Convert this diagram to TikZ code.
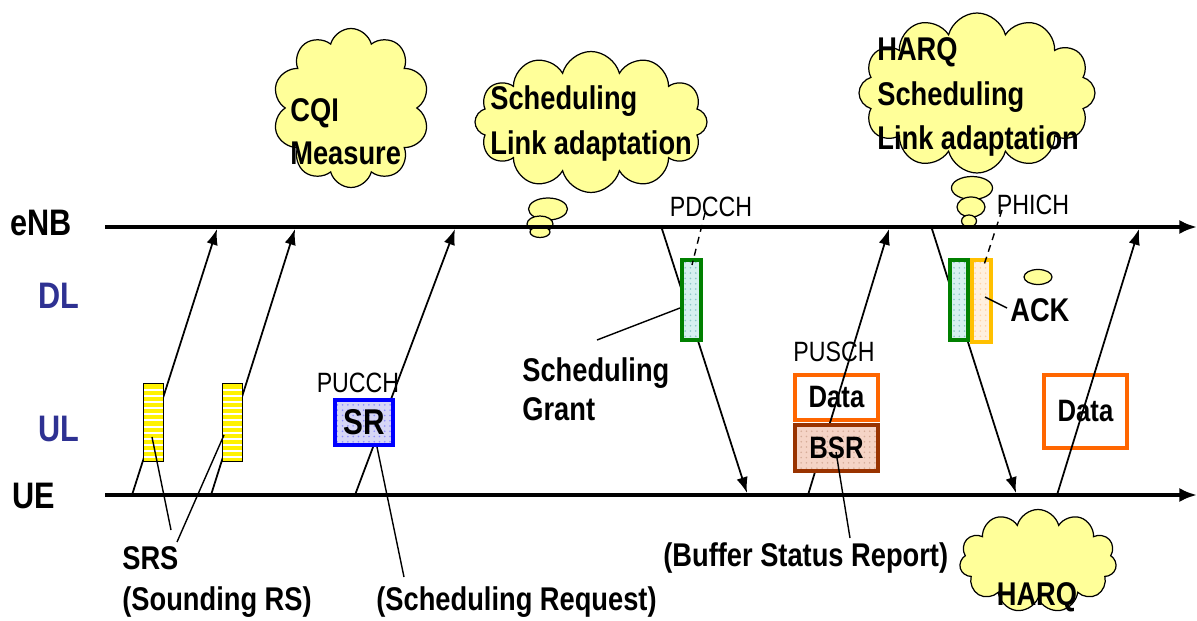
\documentclass[tikz,border=0pt]{standalone}
\usepackage{fontspec}
\setmainfont{Liberation Sans}[FakeStretch=0.83]
\usetikzlibrary{arrows.meta,shapes.symbols,shapes.geometric,patterns}
\definecolor{cloudy}{RGB}{255,255,153}
\definecolor{axisblue}{RGB}{46,49,146}
\definecolor{boxorange}{RGB}{255,102,0}
\definecolor{bsrbrown}{RGB}{153,51,0}
\definecolor{phichgold}{RGB}{255,192,0}
\definecolor{pdgreen}{RGB}{0,128,0}
\definecolor{srblue}{RGB}{0,0,255}
\tikzset{
  pbox/.style 2 args={minimum width=#1*0.02cm, minimum height=#2*0.02cm, inner sep=0pt},
  axisline/.style={line width=2.3pt, -{Latex[length=10pt,width=8pt]}},
  msg/.style={line width=1pt, -{Latex[length=9pt,width=6.5pt]}},
  ptr/.style={line width=0.8pt},
  dptr/.style={line width=0.8pt, dash pattern=on 4pt off 3pt},
  thought/.style={cloud, cloud puffs=11, cloud ignores aspect, fill=cloudy, draw=black, line width=0.7pt, inner sep=0pt},
  bubble/.style={ellipse, fill=cloudy, draw=black, line width=0.7pt, inner sep=0pt},
  lab/.style={font=\bfseries\fontsize{18.7}{18.7}\selectfont, inner sep=0pt},
  axislab/.style={font=\bfseries\fontsize{21}{21}\selectfont, inner sep=0pt},
  chan/.style={font=\fontsize{15.9}{15.9}\selectfont, inner sep=0pt},
  srsbox/.style={draw=black, line width=0.9pt, fill=yellow,
    path picture={\foreach \k in {1,...,13}
      \draw[white, line width=1.1pt] ([yshift=-\k*3.5pt]path picture bounding box.north west) -- ([yshift=-\k*3.5pt]path picture bounding box.north east);}},
  srbox/.style={draw=srblue, line width=2pt, preaction={fill={rgb,255:red,214;green,214;blue,246}}, pattern=dots, pattern color=srblue!45},
  pdbox/.style={draw=pdgreen, line width=2.2pt, preaction={fill={rgb,255:red,214;green,240;blue,240}}, pattern=dots, pattern color=teal!45},
  phbox/.style={draw=phichgold, line width=2.2pt, preaction={fill={rgb,255:red,255;green,240;blue,222}}, pattern=dots, pattern color=orange!35},
  databox/.style={draw=boxorange, line width=2.2pt},
  bsrbox/.style={draw=bsrbrown, line width=2.2pt, preaction={fill={rgb,255:red,245;green,212;blue,198}}, pattern=dots, pattern color=bsrbrown!40},
}
\begin{document}
\begin{tikzpicture}[x=0.02cm,y=-0.02cm]
\useasboundingbox (0,0) rectangle (1197,621);

% clouds and thought bubbles
\node[thought, cloud puffs=10, pbox={157}{159}] (cqicloud) at (351,108) {};
\node[thought, cloud puffs=12, pbox={232}{141}] (schedcloud) at (591,122) {};
\node[bubble, pbox={39}{22}] (sb1) at (548,209) {};
\node[bubble, pbox={26}{16}] (sb2) at (540,224) {};
\node[bubble, pbox={20}{11}] (sb3) at (540,232) {};
\node[thought, cloud puffs=12, pbox={236}{160}] (harqcloud) at (977,93) {};
\node[bubble, pbox={41}{23}] (hb1) at (972,188) {};
\node[bubble, pbox={28}{20}] (hb2) at (971,207) {};
\node[bubble, pbox={15}{12}] (hb3) at (969,221) {};
\node[thought, cloud puffs=11, pbox={157}{103}] (harqcloud2) at (1038,561) {};
\node[bubble, pbox={28}{15}] (ackbubble) at (1038,277) {};

% time axes
\coordinate (enbL) at (105,227);
\coordinate (enbR) at (1197,227);
\coordinate (ueL) at (105,495);
\coordinate (ueR) at (1197,495);
\draw[axisline] (enbL) -- (enbR);
\draw[axisline] (ueL) -- (ueR);

\node[axislab, anchor=base west] (enb) at (10,236) {eNB};
\node[axislab, anchor=base west, text=axisblue] (dl) at (38,309) {DL};
\node[axislab, anchor=base west, text=axisblue] (ul) at (38,441) {UL};
\node[axislab, anchor=base west] (ue) at (12,508) {UE};

% message end points
\coordinate (s1a) at (132,495);  \coordinate (s1b) at (217,229);
\coordinate (s2a) at (211,495);  \coordinate (s2b) at (295,229);
\coordinate (sra) at (355,495);  \coordinate (srb) at (455,229);
\coordinate (pda) at (662,229);  \coordinate (pdb) at (747,493);
\coordinate (pua) at (808,495);  \coordinate (pub) at (889,229);
\coordinate (pha) at (932,229);  \coordinate (phb) at (1016,493);
\coordinate (d2a) at (1057,495); \coordinate (d2b) at (1139,229);

\draw[msg] (s1a) -- (s1b);
\draw[msg] (s2a) -- (s2b);
\draw[msg] (sra) -- (srb);
\draw[msg] (pda) -- (pdb);
\draw[msg] (pha) -- (phb);

% boxes
\node[srsbox, pbox={20}{78}] (srs1) at (153.5,422.5) {};
\node[srsbox, pbox={20}{78}] (srs2) at (232.5,422.5) {};
\node[srbox, pbox={58}{45}, font=\bfseries\fontsize{20.4}{20.4}\selectfont] (sr) at (364,422.5) {SR};
\node[pdbox, pbox={19}{80}] (pdcchbox) at (691.5,300) {};
\node[pdbox, pbox={18}{80}] (phgreen) at (959,300) {};
\node[phbox, pbox={19}{82}] (phichbox) at (981.5,301) {};
\node[databox, pbox={83}{45}, font=\bfseries\fontsize{17.6}{17.6}\selectfont] (data1) at (836.5,397.5) {Data};
\draw[msg] (pua) -- (pub);
\node[bsrbox, pbox={83}{46}, font=\bfseries\fontsize{17.6}{17.6}\selectfont] (bsr) at (836.5,448) {BSR};
\node[databox, pbox={83}{73}, font=\bfseries\fontsize{17.6}{17.6}\selectfont] (data2) at (1085.5,411.5) {Data};
\draw[msg] (d2a) -- (d2b);

% channel labels
\node[chan, anchor=base] (pucch) at (358,393) {PUCCH};
\node[chan, anchor=base] (pdcch) at (711,217) {PDCCH};
\node[chan, anchor=base] (pusch) at (834,362) {PUSCH};
\node[chan, anchor=base] (phich) at (1033,215) {PHICH};

% cloud texts
\node[lab, anchor=base west] (cqi1) at (290,122) {CQI};
\node[lab, anchor=base west] (cqi2) at (290,165) {Measure};
\node[lab, anchor=base west] (sch1) at (490,110) {Scheduling};
\node[lab, anchor=base west] (sch2) at (490,155) {Link adaptation};
\node[lab, anchor=base west] (hq1) at (877,61) {HARQ};
\node[lab, anchor=base west] (hq2) at (877,106) {Scheduling};
\node[lab, anchor=base west] (hq3) at (877,150) {Link adaptation};
\node[lab, anchor=base] (hq4) at (1037,605) {HARQ};

% annotation labels
\node[lab, anchor=base west] (grant1) at (522,382) {Scheduling};
\node[lab, anchor=base west] (grant2) at (522,420) {Grant};
\node[lab, anchor=base west] (ack) at (1010,322) {ACK};
\node[lab, anchor=base west] (srs) at (122,569) {SRS};
\node[lab, anchor=base west] (srsl) at (122,610) {(Sounding RS)};
\node[lab, anchor=base west] (srreq) at (376,610) {(Scheduling Request)};
\node[lab, anchor=base west] (bsrl) at (663,566) {(Buffer Status Report)};

% pointer lines
\coordinate (p1a) at (171,530); \coordinate (p1b) at (152,437);
\coordinate (p2a) at (177,542); \coordinate (p2b) at (224,435);
\coordinate (p3a) at (404,577); \coordinate (p3b) at (377,447);
\coordinate (p4a) at (597,340); \coordinate (p4b) at (680,308);
\coordinate (p5a) at (850,538); \coordinate (p5b) at (836,452);
\coordinate (p6a) at (1007,308); \coordinate (p6b) at (985,297);
\coordinate (p7a) at (705,213); \coordinate (p7b) at (692,265);
\coordinate (p8a) at (1002,210); \coordinate (p8b) at (983,268);
\draw[ptr] (p1a) -- (p1b);
\draw[ptr] (p2a) -- (p2b);
\draw[ptr] (p3a) -- (p3b);
\draw[ptr] (p4a) -- (p4b);
\draw[ptr] (p5a) -- (p5b);
\draw[ptr] (p6a) -- (p6b);
\draw[dptr] (p7a) -- (p7b);
\draw[dptr] (p8a) -- (p8b);
\end{tikzpicture}
\end{document}
